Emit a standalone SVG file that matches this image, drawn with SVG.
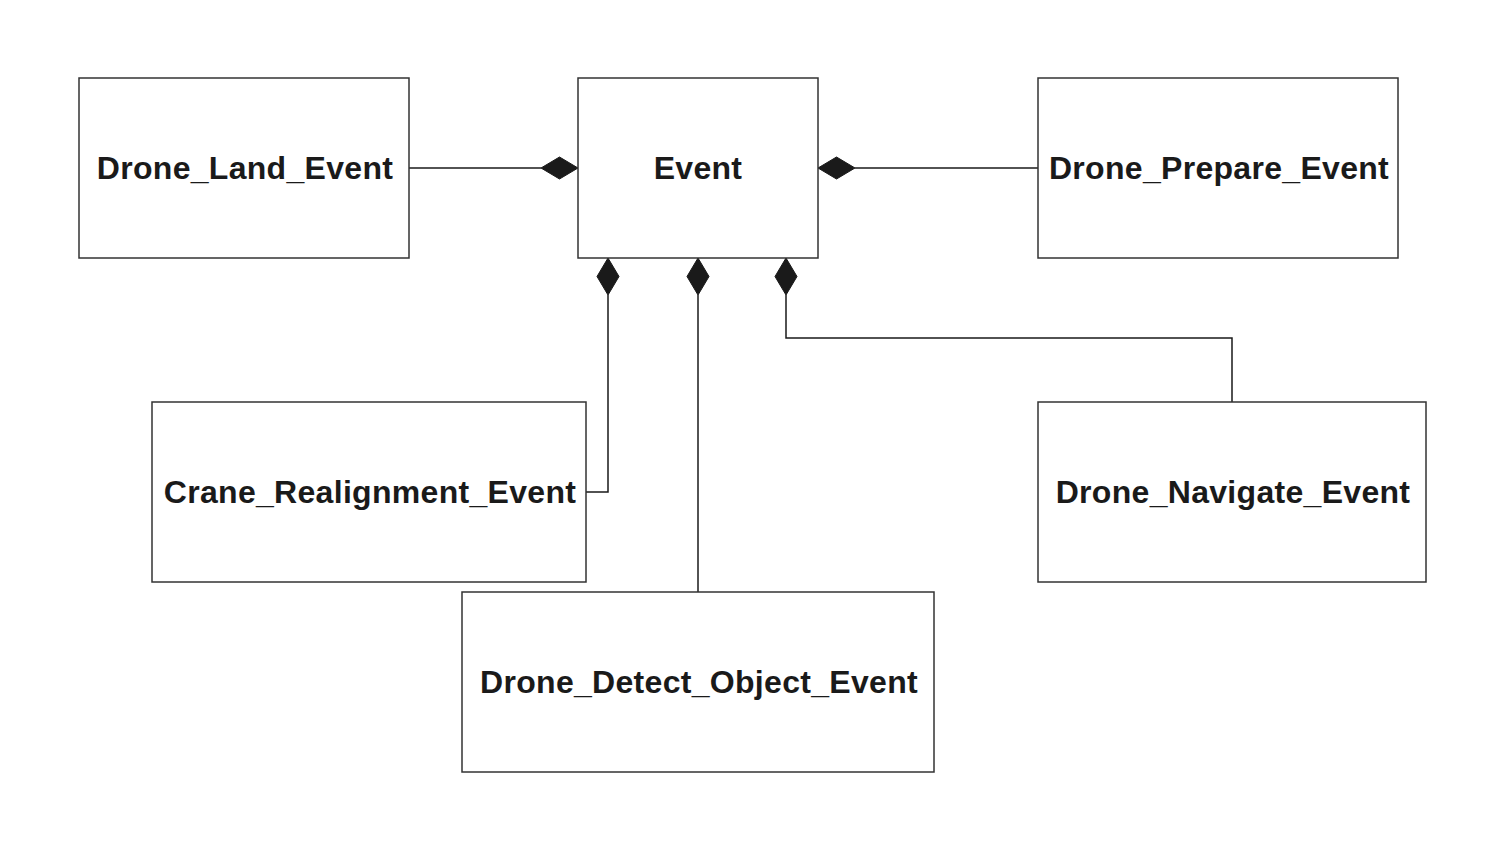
<svg xmlns="http://www.w3.org/2000/svg" width="1504" height="850" viewBox="0 0 1504 850">
<style>
.box{fill:#fff;stroke:#333;stroke-width:1.5}
.lbl{font-family:"Liberation Sans",Arial,sans-serif;font-weight:bold;font-size:32px;letter-spacing:0.3px;fill:#1a1a1a;text-anchor:middle}
.conn{fill:none;stroke:#1a1a1a;stroke-width:1.5}
.dia{fill:#1a1a1a;stroke:#1a1a1a;stroke-width:1}
</style>
<rect width="1504" height="850" fill="#fff"/>
<g id="connectors">
<path class="conn" d="M409,168 H541"/>
<polygon class="dia" points="578,168 559.5,157 541,168 559.5,179"/>
<path class="conn" d="M1038,168 H855"/>
<polygon class="dia" points="818,168 836.5,157 855,168 836.5,179"/>
<path class="conn" d="M586,492 H608 V295"/>
<polygon class="dia" points="608,258 619,276.5 608,295 597,276.5"/>
<path class="conn" d="M698,592 V295"/>
<polygon class="dia" points="698,258 709,276.5 698,295 687,276.5"/>
<path class="conn" d="M1232,402 V338 H786 V295"/>
<polygon class="dia" points="786,258 797,276.5 786,295 775,276.5"/>
</g>
<g id="event">
<rect class="box" x="578" y="78" width="240" height="180"/>
<text class="lbl" x="698" y="179">Event</text>
</g>
<g id="drone_land_event">
<rect class="box" x="79" y="78" width="330" height="180"/>
<text class="lbl" x="245" y="179">Drone_Land_Event</text>
</g>
<g id="drone_prepare_event">
<rect class="box" x="1038" y="78" width="360" height="180"/>
<text class="lbl" x="1219" y="179">Drone_Prepare_Event</text>
</g>
<g id="crane_realignment_event">
<rect class="box" x="152" y="402" width="434" height="180"/>
<text class="lbl" x="370" y="503">Crane_Realignment_Event</text>
</g>
<g id="drone_navigate_event">
<rect class="box" x="1038" y="402" width="388" height="180"/>
<text class="lbl" x="1233" y="503">Drone_Navigate_Event</text>
</g>
<g id="drone_detect_object_event">
<rect class="box" x="462" y="592" width="472" height="180"/>
<text class="lbl" x="699" y="693">Drone_Detect_Object_Event</text>
</g>
</svg>
